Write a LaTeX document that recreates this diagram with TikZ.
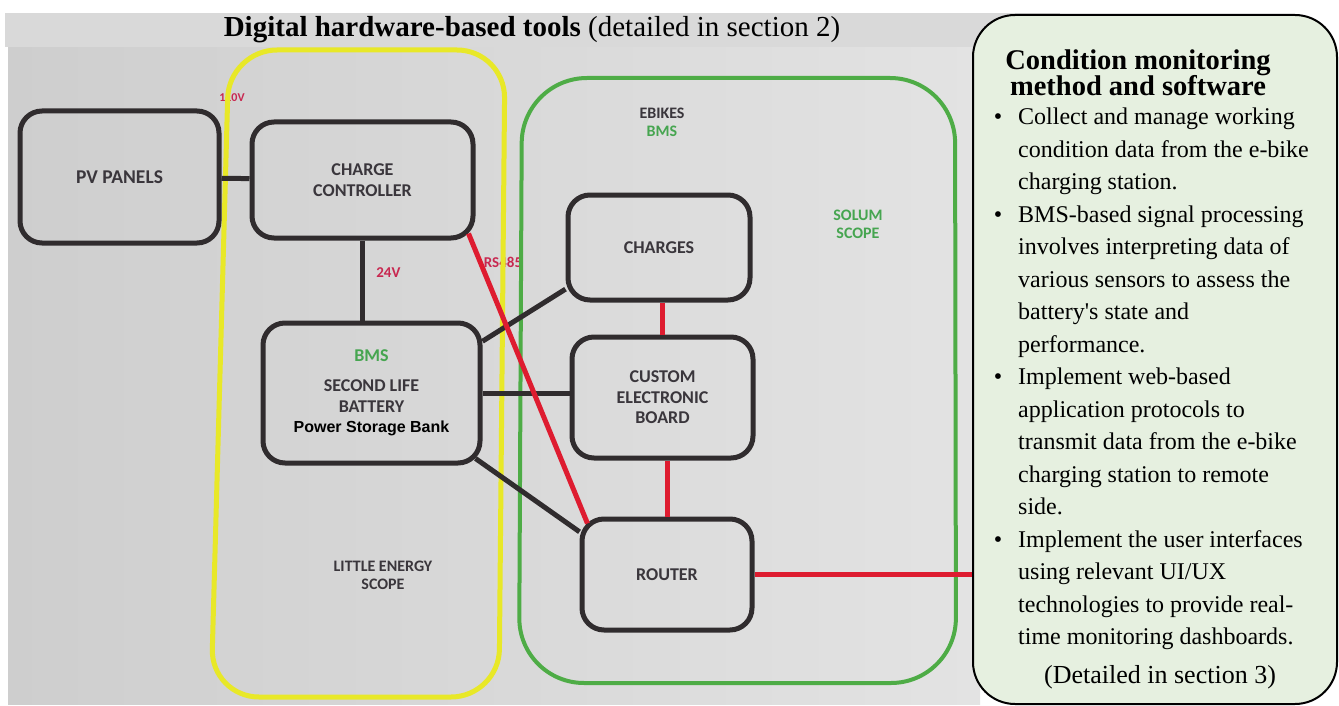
\documentclass[tikz,border=0pt]{standalone}
\usepackage{fontspec}
\setmainfont{Liberation Serif}[Ligatures=TeXOff]
\newfontfamily\calibri{Carlito}
\newfontfamily\arial{Liberation Sans}
\usetikzlibrary{calc}

\definecolor{boxline}{RGB}{48,44,46}
\definecolor{boxtext}{RGB}{58,54,60}
\definecolor{sigred}{RGB}{222,28,48}
\definecolor{scopegreen}{RGB}{78,172,70}
\definecolor{scopeyellow}{RGB}{232,232,40}
\definecolor{redtxt}{RGB}{200,40,80}
\definecolor{greentxt}{RGB}{70,165,80}
\definecolor{panelfill}{RGB}{230,240,224}
\definecolor{bandgray}{RGB}{217,217,217}
\definecolor{photoleft}{RGB}{206,206,206}
\definecolor{photoright}{RGB}{227,227,227}

\tikzset{
  box/.style={draw=boxline, line width=5pt, rounded corners=22pt, align=center, text=boxtext, inner sep=0pt,
    font=\calibri\bfseries\fontsize{18}{20.5}\selectfont},
  wire/.style={draw=boxline, line width=5pt},
  sig/.style={draw=sigred, line width=5pt},
  lbl/.style={text=boxtext, align=center, font=\calibri\bfseries\fontsize{16}{18}\selectfont},
  vlbl/.style={text=redtxt, font=\calibri\bfseries\fontsize{15}{15}\selectfont},
  panel/.style={draw=black, line width=2pt, fill=panelfill, rounded corners=42pt}
}

\begin{document}
\begin{tikzpicture}[x=1pt,y=-1pt]
\useasboundingbox (0,0) rectangle (1339,706);
% photo of the board and the heading band
\shade[left color=photoleft, right color=photoright] (8,47) rectangle (980,704);
\fill[bandgray] (5,13) rectangle (1060,47);
\node[font=\fontsize{29}{32}\selectfont] (title) at (532,30) {\textbf{Digital hardware-based tools} (detailed in section 2)};

% labels that the scope lines run over
\node[vlbl, font=\calibri\bfseries\fontsize{12}{12}\selectfont] (v110) at (232,98) {110V};
\node[vlbl] (rs) at (503,262) {RS485};

% scopes
\draw[scopeyellow, line width=5pt, rounded corners=48pt] (367,50) -- (505,50) -- (499,697) -- (211,697) -- (229,50) -- cycle;
\draw[scopegreen, line width=4pt, rounded corners=65pt] (740,78) -- (955,78) -- (956,683) -- (519,683) -- (522,78) -- cycle;
\node[lbl] (ebikes) at (662,122) {EBIKES\\\textcolor{greentxt}{BMS}};
\node[lbl, text=greentxt] (solum) at (858,224) {SOLUM\\SCOPE};
\node[lbl] (little) at (383,575) {LITTLE ENERGY\\SCOPE};

% blocks
\node[box, minimum width=199pt, minimum height=132pt, font=\calibri\bfseries\fontsize{19.5}{22}\selectfont] (pv) at (119.5,177) {PV PANELS};
\node[box, minimum width=221pt, minimum height=116pt] (cc) at (362.5,180) {CHARGE\\CONTROLLER};
\node[box, minimum width=217pt, minimum height=140pt] (batt) at (371.5,393) {\textcolor{greentxt}{BMS}\\[10pt]SECOND LIFE\\BATTERY\\{\arial\bfseries\fontsize{16}{20}\selectfont\color{black}Power Storage Bank}};
\node[box, minimum width=182pt, minimum height=105pt] (chg) at (659,247.5) {CHARGES};
\node[box, minimum width=181pt, minimum height=121pt] (ceb) at (662.5,397.5) {CUSTOM\\ELECTRONIC\\BOARD};
\node[box, minimum width=170pt, minimum height=111pt] (rtr) at (667,574.5) {ROUTER};

% connections
\draw[wire] (pv) -- (cc);
\draw[wire] (cc.south) -- (cc.south |- batt.north) node[vlbl, pos=0.4, right=8pt] (v24) {24V};
\draw[wire] (batt.25) -- (chg.204);
\draw[wire] (batt.east) -- (batt.east -| ceb.west);
\draw[wire] ($(batt.south east)+(-7,-7)$) -- (rtr.154);
\draw[sig] ($(cc.south east)+(-7,-7)$) -- ($(rtr.north west)+(8,7)$);
\draw[sig] (ceb.north) -- (ceb.north |- chg.south);
\draw[sig] (rtr.north) -- (rtr.north |- ceb.south);

% condition monitoring panel
\node[panel, minimum width=364pt, minimum height=689pt] (info) at (1155,359.5) {};
\draw[sig] (rtr.east) -- (rtr.east -| info.west);
\node[align=center, font=\bfseries\fontsize{28.5}{26.5}\selectfont] (head) at (1138,73) {Condition monitoring\\method and software};
\node[anchor=north west, inner sep=0pt, align=left, font=\fontsize{24}{32.5}\selectfont] (items) at (1018,108) {%
\makebox[0pt][r]{\textbullet\hspace{16pt}}Collect and manage working\\
condition data from the e-bike\\
charging station.\\
\makebox[0pt][r]{\textbullet\hspace{16pt}}BMS-based signal processing\\
involves interpreting data of\\
various sensors to assess the\\
battery's state and\\
performance.\\
\makebox[0pt][r]{\textbullet\hspace{16pt}}Implement web-based\\
application protocols to\\
transmit data from the e-bike\\
charging station to remote\\
side.\\
\makebox[0pt][r]{\textbullet\hspace{16pt}}Implement the user interfaces\\
using relevant UI/UX\\
technologies to provide real-\\
time monitoring dashboards.};
\node[font=\fontsize{26}{28}\selectfont] (more) at (1160,677) {(Detailed in section 3)};
\end{tikzpicture}
\end{document}
